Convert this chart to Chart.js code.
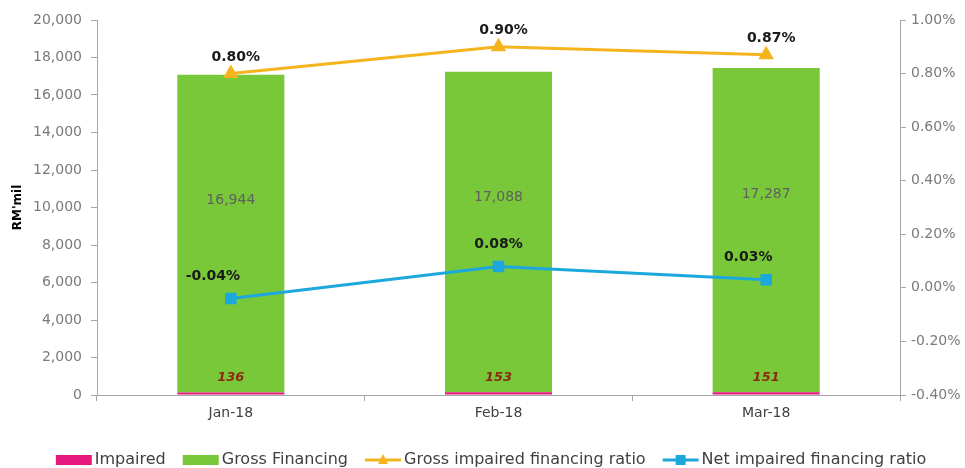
<!DOCTYPE html>
<html>
<head>
<meta charset="utf-8">
<script src="https://cdn.jsdelivr.net/npm/chart.js@4.4.1/dist/chart.umd.min.js"></script>
<style>
  html, body { margin: 0; padding: 0; background: #ffffff; }
  #wrap { width: 965px; height: 468px; position: relative; }
</style>
</head>
<body>
<div id="wrap"><canvas id="c" width="965" height="468"></canvas></div>
<script>
// ---- Data ----
const categories = ['Jan-18', 'Feb-18', 'Mar-18'];
const impaired = [136, 153, 151];
const grossFinancing = [16944, 17088, 17287];
const grossImpairedRatio = [0.80, 0.90, 0.87];
const netImpairedRatio = [-0.04, 0.08, 0.03];

// ---- Colours / styles ----
const PINK = '#E5197E';
const GREEN = '#78C83A';
const ORANGE = '#F5B41E';
const BLUE = '#1CA8DD';
const FONT = "'DejaVu Sans', sans-serif";

// legend icon: box width W=48 for layout; canvas wider (60) and centred on the box
function legendIcon(kind, color) {
  const c = document.createElement('canvas');
  const w = 60, h = 14;
  c.width = w; c.height = h;
  const g = c.getContext('2d');
  const x0 = 23, x1 = 59;
  if (kind === 'box') {
    g.fillStyle = color;
    g.fillRect(x0, 2, x1 - x0, 10);
  } else {
    g.strokeStyle = color;
    g.lineWidth = 3;
    g.beginPath(); g.moveTo(x0, 7); g.lineTo(x1, 7); g.stroke();
    g.fillStyle = color;
    const cx = (x0 + x1) / 2;
    if (kind === 'tri') {
      g.beginPath(); g.moveTo(cx, 1); g.lineTo(cx + 5, 11); g.lineTo(cx - 5, 11); g.closePath(); g.fill();
    } else {
      g.fillRect(cx - 5, 2, 10, 10);
    }
  }
  return c;
}

function pct(v) {
  let r = Math.round(v * 100) / 100;
  if (Math.abs(r) < 1e-9) r = 0;
  return r.toFixed(2) + '%';
}

const labelPlugin = {
  id: 'valueLabels',
  afterDatasetsDraw(chart) {
    const ctx = chart.ctx;
    const yScale = chart.scales.y;
    ctx.save();
    ctx.textAlign = 'center';
    ctx.textBaseline = 'middle';
    chart.data.datasets.forEach((ds, i) => {
      const meta = chart.getDatasetMeta(i);
      meta.data.forEach((el, j) => {
        const v = ds.data[j];
        if (ds.label === 'Impaired') {
          ctx.font = "italic bold 13px " + FONT;
          ctx.fillStyle = '#8B2A10';
          ctx.fillText(String(v), el.x, yScale.bottom - 17);
        } else if (ds.label === 'Gross Financing') {
          ctx.font = "14px " + FONT;
          ctx.fillStyle = '#606060';
          ctx.fillText(v.toLocaleString('en-US'), el.x, el.y + 126);
        } else if (ds.label === 'Gross impaired financing ratio') {
          ctx.font = "bold 14px " + FONT;
          ctx.fillStyle = '#1a1a1a';
          ctx.fillText(pct(v), el.x + 5, el.y - 16);
        } else if (ds.label === 'Net impaired financing ratio') {
          ctx.font = "bold 14px " + FONT;
          ctx.fillStyle = '#1a1a1a';
          const dx = j === 1 ? 0 : -18;
          ctx.fillText(pct(v), el.x + dx, el.y - 22);
        }
      });
    });
    ctx.restore();
  }
};

const chart = new Chart(document.getElementById('c'), {
  data: {
    labels: categories,
    datasets: [
      {
        type: 'bar', label: 'Impaired', data: impaired,
        backgroundColor: PINK, yAxisID: 'y', stack: 's', order: 2,
        categoryPercentage: 1.0, barPercentage: 0.4
      },
      {
        type: 'bar', label: 'Gross Financing', data: grossFinancing,
        backgroundColor: GREEN, yAxisID: 'y', stack: 's', order: 2,
        categoryPercentage: 1.0, barPercentage: 0.4
      },
      {
        type: 'line', label: 'Gross impaired financing ratio', data: grossImpairedRatio,
        borderColor: ORANGE, backgroundColor: ORANGE, borderWidth: 3,
        pointStyle: 'triangle', pointRadius: 6, pointBackgroundColor: ORANGE, pointBorderColor: ORANGE,
        yAxisID: 'y1', order: 0, tension: 0
      },
      {
        type: 'line', label: 'Net impaired financing ratio', data: netImpairedRatio,
        borderColor: BLUE, backgroundColor: BLUE, borderWidth: 3,
        pointStyle: 'rect', pointRadius: 6, pointBackgroundColor: BLUE, pointBorderColor: BLUE,
        yAxisID: 'y1', order: 0, tension: 0
      }
    ]
  },
  options: {
    responsive: false,
    animation: false,
    devicePixelRatio: 1,
    layout: { padding: { top: 20, left: 0, right: 0, bottom: -10 } },
    plugins: {
      tooltip: { enabled: false },
      legend: {
        position: 'bottom',
        labels: {
          usePointStyle: true,
          pointStyleWidth: 48,
          boxHeight: 14,
          padding: 0,
          color: '#404040',
          font: { family: FONT, size: 16 },
          generateLabels(chart) {
            return chart.data.datasets.map((ds, i) => ({
              text: ds.label,
              pointStyle: ds.type === 'bar' ? legendIcon('box', ds.backgroundColor) :
                legendIcon(ds.pointStyle === 'triangle' ? 'tri' : 'sq', ds.borderColor),
              fillStyle: ds.backgroundColor,
              strokeStyle: ds.backgroundColor,
              lineWidth: 0,
              hidden: false,
              datasetIndex: i,
              fontColor: '#404040'
            }));
          }
        }
      }
    },
    scales: {
      x: {
        stacked: true,
        grid: { display: true, drawOnChartArea: false, drawTicks: true, tickLength: 6, color: '#a6a6a6', offset: true },
        border: { display: true, color: '#a6a6a6' },
        ticks: { color: '#404040', font: { family: FONT, size: 14 }, padding: 4 },
        afterFit(s) { s.height = 57; }
      },
      y: {
        stacked: true,
        position: 'left',
        min: 0, max: 20000,
        ticks: {
          stepSize: 2000, color: '#7a7a7a', padding: 9,
          font: { family: FONT, size: 14 },
          callback: v => v.toLocaleString('en-US')
        },
        grid: { drawOnChartArea: false, drawTicks: true, tickLength: 6, color: '#a6a6a6' },
        border: { display: true, color: '#a6a6a6' },
        title: { display: true, text: "RM'mil", color: '#000', font: { family: FONT, size: 12, weight: 'bold' }, padding: { top: 11, bottom: 0 } },
        afterFit(s) { s.width = 97; }
      },
      y1: {
        position: 'right',
        min: -0.4, max: 1.0,
        ticks: {
          stepSize: 0.2, color: '#7a7a7a', padding: 5,
          font: { family: FONT, size: 14 },
          callback: v => pct(v)
        },
        grid: { drawOnChartArea: false, drawTicks: true, tickLength: 6, color: '#a6a6a6' },
        border: { display: true, color: '#a6a6a6' },
        afterFit(s) { s.width = 65; }
      }
    }
  },
  plugins: [labelPlugin]
});
</script>
</body>
</html>
